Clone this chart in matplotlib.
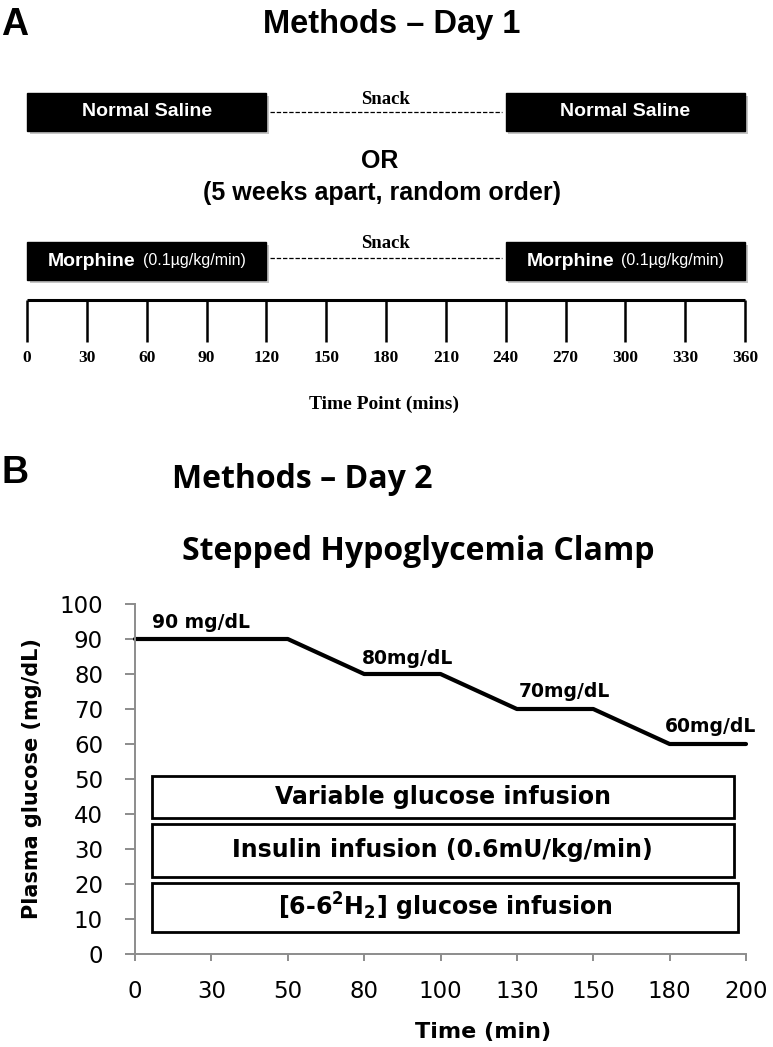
import numpy as np
import matplotlib.pyplot as plt
from matplotlib.patches import Rectangle
from matplotlib.offsetbox import TextArea, HPacker, AnnotationBbox
import matplotlib.patheffects as pe

plt.rcParams['mathtext.fontset'] = 'custom'
plt.rcParams['mathtext.rm'] = 'DejaVu Sans:bold'
plt.rcParams['mathtext.bf'] = 'DejaVu Sans:bold'

# ---- panel A: day 1 protocol (minutes)
day1_ticks = [0, 30, 60, 90, 120, 150, 180, 210, 240, 270, 300, 330, 360]
saline_periods = [(0, 120), (240, 360)]
morphine_periods = [(0, 120), (240, 360)]
snack_period = (120, 240)
morphine_dose = '(0.1µg/kg/min)'

# ---- panel B: stepped hypoglycemia clamp
clamp_times = ['0', '30', '50', '80', '100', '130', '150', '180', '200']
glucose_target = [90, 90, 90, 80, 80, 70, 70, 60, 60]
step_labels = ['90 mg/dL', '80mg/dL', '70mg/dL', '60mg/dL']
step_label_x = [0.86, 3.57, 5.62, 7.53]
step_label_y = [94.8, 84.5, 74.9, 65.0]
infusions = ['Variable glucose infusion',
             'Insulin infusion (0.6mU/kg/min)',
             r'[6-6$^{2}$H$_{2}$] glucose infusion']
infusion_spans = [(0.22, 7.84, 38.8, 50.9),
                  (0.22, 7.84, 22.1, 37.1),
                  (0.22, 7.90, 6.4, 20.4)]

W, H = 773, 1047
fig = plt.figure(figsize=(W / 100, H / 100), dpi=100)

def fx(x):
    return x / W

def fy(y):
    return 1 - y / H

sans = 'Liberation Sans'
serif = 'Liberation Serif'

# ================= panel A
pxmin = 718 / 360.
axa = fig.add_axes([0, fy(460), 1, 460 / H])
axa.set_xlim(-27 / pxmin, 360 + 28 / pxmin)
axa.set_ylim(460, 0)
axa.axis('off')

fig.text(fx(1), fy(35), 'A', fontsize=27, fontweight='bold', family=sans, va='baseline')
fig.text(fx(392), fy(33), 'Methods – Day 1', fontsize=23.5, fontweight='bold', family=sans,
         ha='center', va='baseline')

shadow = [pe.SimplePatchShadow(offset=(2, -2), shadow_rgbFace='0.55', alpha=0.5), pe.Normal()]

def black_box(s, e, y0, y1):
    axa.add_patch(Rectangle((s, y0), e - s, y1 - y0, fc='black', ec='black',
                            path_effects=shadow))

for s, e in saline_periods:
    black_box(s, e, 93, 131)
    axa.text((s + e) / 2, 112, 'Normal Saline', color='white', fontsize=14,
             fontweight='bold', family=sans, ha='center', va='center')

for s, e in morphine_periods:
    black_box(s, e, 242, 280)
    pack = HPacker(children=[
        TextArea('Morphine', textprops=dict(color='white', fontsize=14, fontweight='bold', family=sans)),
        TextArea(morphine_dose, textprops=dict(color='white', fontsize=11.5, family=sans))],
        align='baseline', pad=0, sep=5)
    axa.add_artist(AnnotationBbox(pack, ((s + e) / 2, 261), frameon=False, box_alignment=(0.5, 0.5)))

for yl, ys in [(111.7, 99), (258, 244)]:
    axa.plot([snack_period[0] + 2, snack_period[1] - 2], [yl, yl], color='black', lw=0.9,
             ls=(0, (3.5, 1.5)))
    axa.text(np.mean(snack_period), ys, 'Snack', fontsize=13.5, fontweight='bold', family=serif,
             ha='center', va='center')

axa.text(177, 161, 'OR', fontsize=18, fontweight='bold', family=sans, ha='center', va='center')
axa.text(178, 193, '(5 weeks apart, random order)', fontsize=18, fontweight='bold', family=sans,
         ha='center', va='center')

axa.plot([day1_ticks[0], day1_ticks[-1]], [300, 300], color='black', lw=2.2, solid_capstyle='butt')
axa.vlines(day1_ticks, 300, 342, color='black', lw=1.8)
for t in day1_ticks:
    axa.text(t, 358, str(t), fontsize=12.5, fontweight='bold', family=serif, ha='center', va='center')
axa.text(179, 404, 'Time Point (mins)', fontsize=14, fontweight='bold', family=serif,
         ha='center', va='center')

# ================= panel B
fig.text(fx(1), fy(483), 'B', fontsize=27, fontweight='bold', family=sans, va='baseline')
fig.text(fx(172), fy(488), 'Methods – Day 2', fontsize=23, fontweight='bold', family='Open Sans',
         va='baseline')
fig.text(fx(418), fy(560), 'Stepped Hypoglycemia Clamp', fontsize=23, fontweight='bold',
         family='Open Sans', ha='center', va='baseline')

axb = fig.add_axes([fx(135), fy(954), 611 / W, 350 / H])
x = np.arange(len(clamp_times))
axb.plot(x, glucose_target, color='black', lw=3, solid_capstyle='round', solid_joinstyle='round',
         clip_on=False)
axb.set_xlim(0, len(clamp_times) - 1)
axb.set_ylim(0, 100)
axb.set_xticks(x)
axb.set_xticklabels(clamp_times)
axb.set_yticks(np.arange(0, 101, 10))
for side in ['top', 'right']:
    axb.spines[side].set_visible(False)
for side in ['left', 'bottom']:
    axb.spines[side].set_color('#8c8c8c')
    axb.spines[side].set_linewidth(1.4)
axb.tick_params(axis='y', length=7, width=1.4, color='#8c8c8c', pad=16, labelsize=16.5)
axb.tick_params(axis='x', length=5, width=1.4, color='#8c8c8c', pad=14, labelsize=16.5)
for lab in axb.get_xticklabels() + axb.get_yticklabels():
    lab.set_family('DejaVu Sans')

for lab, lx, ly in zip(step_labels, step_label_x, step_label_y):
    axb.text(lx, ly, lab, fontsize=13.5, fontweight='bold', family='DejaVu Sans',
             ha='center', va='center')

for name, (x0, x1, y0, y1) in zip(infusions, infusion_spans):
    axb.add_patch(Rectangle((x0, y0), x1 - x0, y1 - y0, fc='white', ec='black', lw=2))
    axb.text((x0 + x1) / 2, (y0 + y1) / 2, name, fontsize=17, fontweight='bold',
             family='DejaVu Sans', ha='center', va='center')

axb.set_ylabel('Plasma glucose (mg/dL)', fontsize=15, fontweight='bold', family='DejaVu Sans')
axb.set_xlabel('Time (min)', fontsize=16, fontweight='bold', family='DejaVu Sans')
axb.yaxis.set_label_coords(-0.152, 0.5)
axb.xaxis.set_label_coords(0.57, -0.195)

fig.savefig('out.png', dpi=100)
